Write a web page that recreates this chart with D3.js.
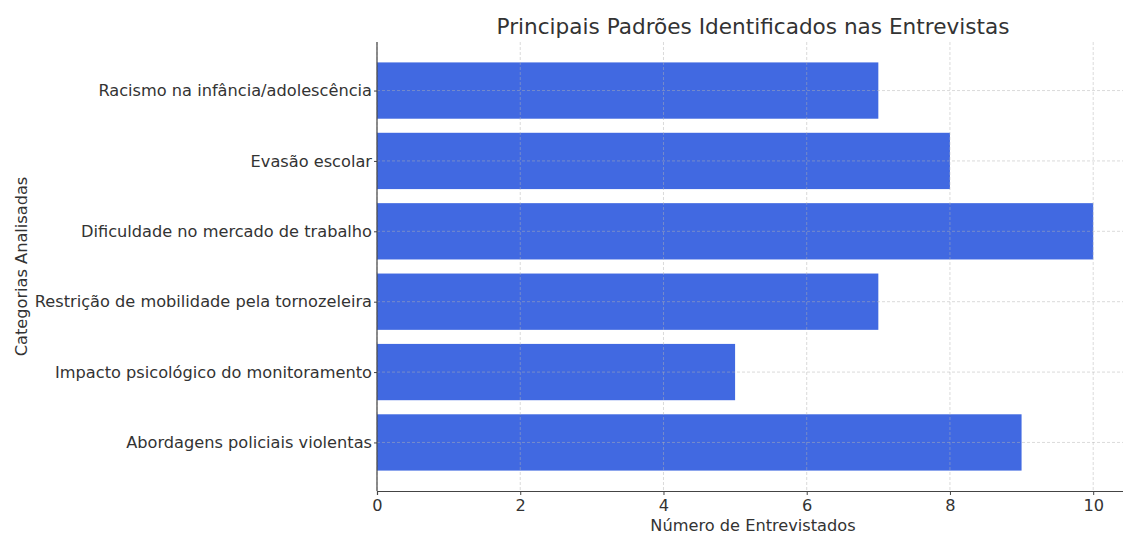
<!DOCTYPE html>
<html>
<head>
<meta charset="utf-8">
<script src="https://cdn.jsdelivr.net/npm/d3@7"></script>
<style>
  body { margin: 0; background: #fff; }
  svg { display: block; font-family: "DejaVu Sans", sans-serif; }
</style>
</head>
<body>
<div id="chart"></div>
<script>
const categories = [
  "Racismo na infância/adolescência",
  "Evasão escolar",
  "Dificuldade no mercado de trabalho",
  "Restrição de mobilidade pela tornozeleira",
  "Impacto psicológico do monitoramento",
  "Abordagens policiais violentas"
];
const values = [7, 8, 10, 7, 5, 9];
const xTicks = [0, 2, 4, 6, 8, 10];

const data = categories.map((c, i) => ({category: c, value: values[i]}));

const W = 1123, H = 534;
const margin = {top: 42, left: 377};
const plotW = 752, plotH = 449;

const svg = d3.select("#chart").append("svg")
    .attr("width", W)
    .attr("height", H);

const g = svg.append("g")
    .attr("transform", `translate(${margin.left},${margin.top})`);

const x = d3.scaleLinear().domain([0, 10.5]).range([0, plotW]);

// categorical positions like matplotlib barh: index 0 at the top
const y = d3.scaleLinear()
    .domain([-0.69, categories.length - 1 + 0.69])
    .range([0, plotH]);
const bandH = y(0.8) - y(0);

// bars
g.selectAll("rect.bar")
  .data(data)
  .enter()
  .append("rect")
  .attr("class", "bar")
  .attr("x", x(0))
  .attr("y", (d, i) => y(i) - bandH / 2)
  .attr("width", d => x(d.value) - x(0))
  .attr("height", bandH)
  .attr("fill", "#4169e1");

// grid (drawn over bars)
const grid = g.append("g");
grid.selectAll("line.vg")
  .data(xTicks)
  .enter()
  .append("line")
  .attr("x1", d => x(d)).attr("x2", d => x(d))
  .attr("y1", 0).attr("y2", plotH)
  .attr("stroke", "#b0b0b0")
  .attr("stroke-opacity", 0.6)
  .attr("stroke-width", 0.8)
  .attr("stroke-dasharray", "3,2");
grid.selectAll("line.hg")
  .data(categories)
  .enter()
  .append("line")
  .attr("x1", 0).attr("x2", plotW)
  .attr("y1", (d, i) => y(i)).attr("y2", (d, i) => y(i))
  .attr("stroke", "#b0b0b0")
  .attr("stroke-opacity", 0.6)
  .attr("stroke-width", 0.8)
  .attr("stroke-dasharray", "3,2");

// x axis
const xAxis = g.append("g")
    .attr("transform", `translate(0,${plotH})`)
    .call(d3.axisBottom(x).tickValues(xTicks).tickSize(4).tickPadding(4).tickFormat(d3.format("d")));
xAxis.select(".domain").attr("stroke", "#444").attr("stroke-width", 1.2);
xAxis.selectAll(".tick line").attr("stroke", "#444");
xAxis.selectAll(".tick text")
  .attr("fill", "#333")
  .style("font-size", "16.2px")
  .style("font-family", "DejaVu Sans");

// y axis
const yAxis = g.append("g")
    .call(d3.axisLeft(y).tickValues(d3.range(categories.length))
      .tickFormat(i => categories[i]).tickSize(3).tickPadding(2));
yAxis.select(".domain").attr("d", `M0,0V${plotH}`).attr("stroke", "#444").attr("stroke-width", 1.2);
yAxis.selectAll(".tick line").attr("stroke", "#444");
yAxis.selectAll(".tick text")
  .attr("fill", "#333")
  .style("font-size", "16.2px")
  .style("font-family", "DejaVu Sans");

// title
svg.append("text")
  .attr("x", margin.left + plotW / 2)
  .attr("y", 33.5)
  .attr("text-anchor", "middle")
  .attr("fill", "#333")
  .style("font-size", "21.6px")
  .text("Principais Padrões Identificados nas Entrevistas");

// x label
svg.append("text")
  .attr("x", margin.left + plotW / 2)
  .attr("y", 531)
  .attr("text-anchor", "middle")
  .attr("fill", "#333")
  .style("font-size", "16.2px")
  .text("Número de Entrevistados");

// y label
svg.append("text")
  .attr("transform", `translate(27,${margin.top + plotH / 2}) rotate(-90)`)
  .attr("text-anchor", "middle")
  .attr("fill", "#333")
  .style("font-size", "16.2px")
  .text("Categorias Analisadas");
</script>
</body>
</html>
